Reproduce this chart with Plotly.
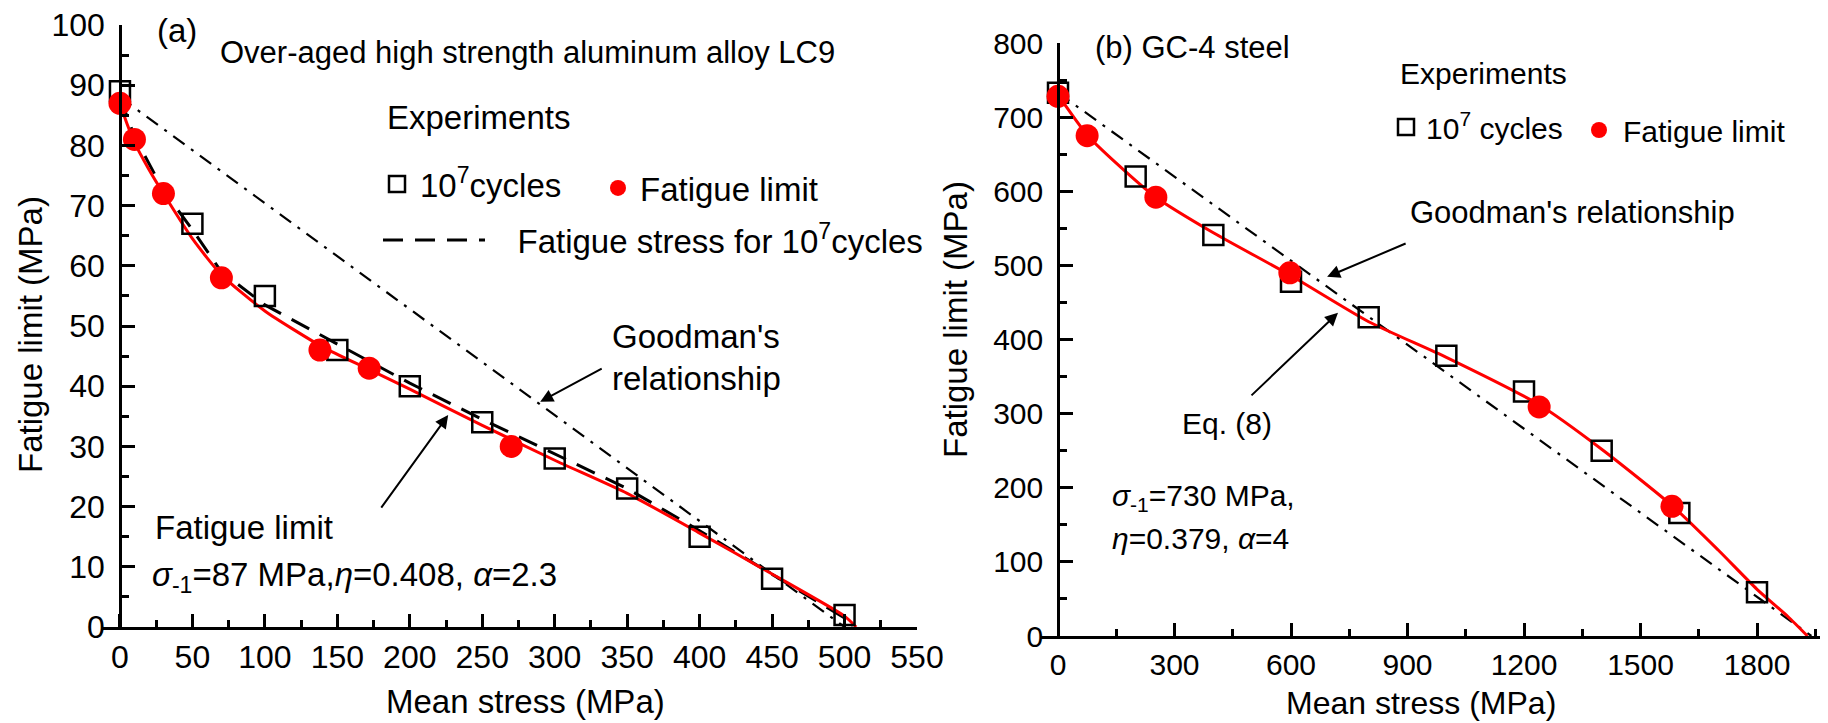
import plotly.graph_objects as go

W, H = 1828, 723          # target picture size
OFF = 8                   # page body margin offset (px)
FIG_W, FIG_H = W - OFF, H - OFF
FONT = "Liberation Sans, Arial, sans-serif"

# ---------------- Panel (a): over-aged aluminum alloy LC9 ----------------
a_sq_x = [0, 50, 100, 150, 200, 250, 300, 350, 400, 450, 500]
a_sq_y = [89, 67, 55, 46, 40, 34, 28, 23, 15, 8, 2]

a_fl_x = [0, 10, 30, 70, 138, 172, 270]
a_fl_y = [87, 81, 72, 58, 46, 43, 30]

a_curve_x = [0, 5, 10, 20, 30, 50, 70, 100, 140, 170, 200, 250, 300, 350, 400, 450, 500, 508]
a_curve_y = [87, 83.5, 80.5, 76, 72, 64.5, 58.5, 52.5, 46.5, 43, 39.5, 33.5, 27.7, 22.2, 15.6, 8.8, 1.8, 0]

a_dash_x = [0, 10, 30, 50, 70, 100, 150, 200, 250, 300, 350, 400, 450, 500, 505]
a_dash_y = [88, 81.5, 72.5, 66, 59, 53.5, 47, 40.5, 34.5, 28.7, 23, 16, 8.7, 1.5, 0]

a_good_x = [0, 500]
a_good_y = [88, 0]

# ---------------- Panel (b): GC-4 steel ----------------
b_sq_x = [0, 200, 400, 600, 800, 1000, 1200, 1400, 1600, 1800]
b_sq_y = [733, 620, 541, 478, 430, 378, 330, 250, 166, 59]

b_fl_x = [0, 75, 252, 597, 1239, 1581]
b_fl_y = [728, 675, 592, 490, 309, 175]

b_curve_x = [0, 75, 150, 252, 400, 597, 800, 1000, 1239, 1400, 1581, 1700, 1800, 1880, 1930]
b_curve_y = [730, 676, 638, 592, 544, 487, 424, 376, 312, 252, 176, 116, 63, 26, 0]

b_good_x = [0, 1940]
b_good_y = [733, 0]


def fx(p):
    return (p - OFF) / FIG_W


def fy(p):
    return 1 - (p - OFF) / FIG_H


fig = go.Figure()

DASHDOT = "14px,8px,3px,8px"
DASH = "20px,12px"

# panel a
fig.add_trace(go.Scatter(x=a_good_x, y=a_good_y, mode="lines", xaxis="x", yaxis="y",
                         line=dict(color="black", width=2.2, dash=DASHDOT), showlegend=False, cliponaxis=False))
fig.add_trace(go.Scatter(x=a_dash_x, y=a_dash_y, mode="lines", xaxis="x", yaxis="y",
                         line=dict(color="black", width=3, dash=DASH),
                         name="&nbsp;&nbsp;&nbsp;Fatigue stress for 10<sup>7</sup>cycles", legend="legend3"))
fig.add_trace(go.Scatter(x=a_curve_x, y=a_curve_y, mode="lines", xaxis="x", yaxis="y",
                         line=dict(color="red", width=3, shape="spline", smoothing=0.6), showlegend=False))
fig.add_trace(go.Scatter(x=a_sq_x, y=a_sq_y, mode="markers", xaxis="x", yaxis="y", cliponaxis=False,
                         marker=dict(symbol="square-open", size=20, color="black", line=dict(width=2.5)),
                         name="10<sup>7</sup>cycles", legend="legend"))
fig.add_trace(go.Scatter(x=a_fl_x, y=a_fl_y, mode="markers", xaxis="x", yaxis="y", cliponaxis=False,
                         marker=dict(symbol="circle", size=23, color="red"),
                         name="Fatigue limit", legend="legend2"))

# panel b
fig.add_trace(go.Scatter(x=b_good_x, y=b_good_y, mode="lines", xaxis="x2", yaxis="y2",
                         line=dict(color="black", width=2.2, dash=DASHDOT), showlegend=False, cliponaxis=False))
fig.add_trace(go.Scatter(x=b_curve_x, y=b_curve_y, mode="lines", xaxis="x2", yaxis="y2",
                         line=dict(color="red", width=3, shape="spline", smoothing=0.6), showlegend=False))
fig.add_trace(go.Scatter(x=b_sq_x, y=b_sq_y, mode="markers", xaxis="x2", yaxis="y2", cliponaxis=False,
                         marker=dict(symbol="square-open", size=20, color="black", line=dict(width=2.5)),
                         name="10<sup>7</sup> cycles", legend="legend4"))
fig.add_trace(go.Scatter(x=b_fl_x, y=b_fl_y, mode="markers", xaxis="x2", yaxis="y2", cliponaxis=False,
                         marker=dict(symbol="circle", size=23, color="red"),
                         name="Fatigue limit", legend="legend5"))


def leg(x, y, size, itemwidth):
    return dict(x=fx(x), y=fy(y), xanchor="left", yanchor="middle", bgcolor="rgba(0,0,0,0)",
                borderwidth=0, font=dict(family=FONT, size=size, color="black"),
                itemwidth=itemwidth, orientation="v", itemsizing="trace")


def axis_common(size, standoff):
    return dict(showline=True, linecolor="black", linewidth=2.5, ticks="inside", ticklen=13,
                tickwidth=2.5, tickcolor="black", showgrid=False, zeroline=False, automargin=False,
                ticklabeloverflow="allow",
                tickfont=dict(family=FONT, size=size, color="black"), ticklabelstandoff=standoff)


ax_a = axis_common(32, 0)
ay_a = axis_common(32, 8)
ax_b = axis_common(30, 0)
ay_b = axis_common(30, 8)

MINOR = dict(ticks="inside", ticklen=7, tickwidth=2.5, tickcolor="black")

fig.update_layout(
    template="none",
    width=FIG_W, height=FIG_H, autosize=False,
    margin=dict(l=0, r=0, t=0, b=0, pad=0, autoexpand=False),
    paper_bgcolor="white", plot_bgcolor="white",
    font=dict(family=FONT, color="black"),
    xaxis=dict(domain=[fx(103), fx(917)], range=[-11.7, 550], anchor="y", tick0=0, dtick=50,
               minor=dict(dtick=25, tick0=0, **MINOR), **ax_a),
    yaxis=dict(domain=[fy(627), fy(25)], range=[0, 100], anchor="free", position=fx(120), tick0=0, dtick=10,
               minor=dict(dtick=5, tick0=0, **MINOR), **ay_a),
    xaxis2=dict(domain=[fx(1040), 1], range=[-46.35, 1982.8], anchor="y2", tick0=0, dtick=300,
                minor=dict(dtick=150, tick0=0, **MINOR), **ax_b),
    yaxis2=dict(domain=[fy(636), fy(43)], range=[0, 800], anchor="free", position=fx(1058), tick0=0, dtick=100,
                minor=dict(dtick=50, tick0=0, **MINOR), **ay_b),
    legend=leg(374, 184, 33, 36),
    legend2=leg(596, 188, 33, 34),
    legend3=leg(378, 240, 33, 102),
    legend4=leg(1386, 127, 30, 30),
    legend5=leg(1575, 130, 30, 38),
)


def txt(text, x, y, size, xanchor="left", angle=0):
    return dict(text=text, x=fx(x), y=fy(y), xref="paper", yref="paper", xanchor=xanchor, yanchor="middle",
                showarrow=False, textangle=angle, font=dict(family=FONT, size=size, color="black"))


def arrow(x, y, ax, ay, xref, yref):
    return dict(text="", x=x, y=y, ax=ax, ay=ay, xref=xref, yref=yref, axref="pixel", ayref="pixel",
                showarrow=True, arrowhead=2, arrowsize=1.3, arrowwidth=2, arrowcolor="black", standoff=0)


annotations = [
    # panel a
    txt("(a)", 155, 30, 33),
    txt("Over-aged high strength aluminum alloy LC9", 218, 53, 31),
    txt("Experiments", 385, 117, 33),
    txt("Goodman's", 610, 337, 33),
    txt("relationship", 610, 378, 33),
    txt("Fatigue limit", 153, 527, 33),
    txt("<i>σ</i><sub>-1</sub>=87 MPa,<i>η</i>=0.408, <i>α</i>=2.3", 150, 577, 33),
    txt("Mean stress (MPa)", 525, 701, 33, xanchor="center"),
    txt("Fatigue limit (MPa)", 30, 335, 33, xanchor="center", angle=-90),
    arrow(290, 37.4, 63, -34, "x", "y"),
    arrow(226.5, 35.2, -68, 94, "x", "y"),
    # panel b
    txt("(b) GC-4 steel", 1093, 48, 31),
    txt("Experiments", 1398, 73, 30),
    txt("Goodman's relationship", 1408, 213, 31),
    txt("Eq. (8)", 1180, 423, 30),
    txt("<i>σ</i><sub>-1</sub>=730 MPa,", 1110, 497, 30),
    txt("<i>η</i>=0.379, <i>α</i>=4", 1110, 538, 30),
    txt("Mean stress (MPa)", 1421, 703, 32, xanchor="center"),
    txt("Fatigue limit (MPa)", 956, 320, 33, xanchor="center", angle=-90),
    arrow(693, 484.5, 80, -34, "x2", "y2"),
    arrow(721, 436, -88, 84, "x2", "y2"),
]
fig.update_layout(annotations=annotations)

fig.write_html("out.html", config={"displayModeBar": False})
